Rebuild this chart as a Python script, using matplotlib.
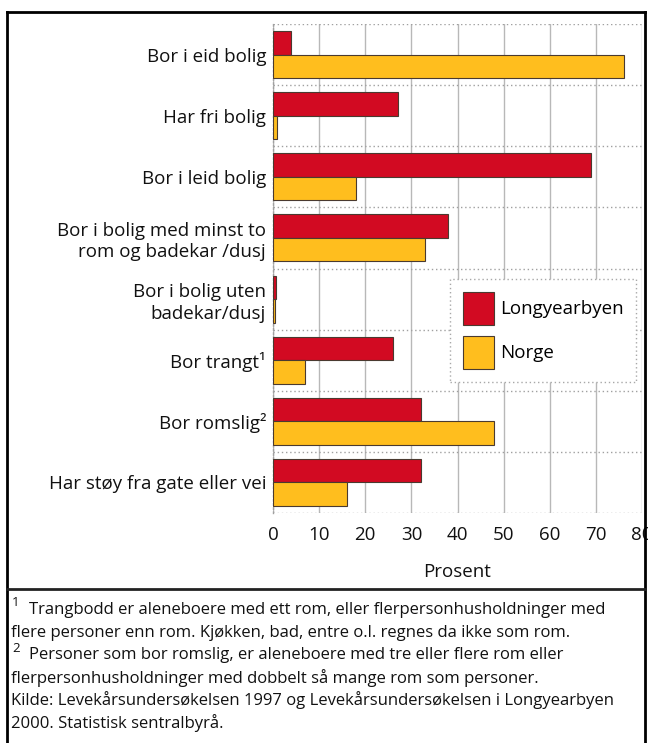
import matplotlib
matplotlib.use("Agg")
import matplotlib.pyplot as plt
from matplotlib.lines import Line2D
import numpy as np

plt.rcParams['font.family'] = ['Open Sans', 'DejaVu Sans']

categories = [
    "Bor i eid bolig",
    "Har fri bolig",
    "Bor i leid bolig",
    "Bor i bolig med minst to\nrom og badekar /dusj",
    "Bor i bolig uten\nbadekar/dusj",
    "Bor trangt\u00b9",
    "Bor romslig\u00b2",
    "Har støy fra gate eller vei",
]
longyearbyen = [4, 27, 69, 38, 0.6, 26, 32, 32]
norge = [76, 0.8, 18, 33, 0.5, 7, 48, 16]
series_labels = ["Longyearbyen", "Norge"]
xticks = [0, 10, 20, 30, 40, 50, 60, 70, 80]
xlabel = "Prosent"
footnotes = [
    ("1", "Trangbodd er aleneboere med ett rom, eller flerpersonhusholdninger med"),
    ("", "flere personer enn rom. Kjøkken, bad, entre o.l. regnes da ikke som rom."),
    ("2", "Personer som bor romslig, er aleneboere med tre eller flere rom eller"),
    ("", "flerpersonhusholdninger med dobbelt så mange rom som personer."),
    ("", "Kilde: Levekårsundersøkelsen 1997 og Levekårsundersøkelsen i Longyearbyen"),
    ("", "2000. Statistisk sentralbyrå."),
]

RED = "#d20a22"
YEL = "#ffbe1e"
EDGE = "#4a3a30"

W, H = 648, 743
fig = plt.figure(figsize=(W / 100, H / 100), dpi=100)

def fx(px):
    return px / W

def fy(py):
    return 1 - py / H

# axes area in pixels
L, R, T, B = 273, 642, 24, 513
ax = fig.add_axes([fx(L), fy(B), fx(R) - fx(L), fy(T) - fy(B)])

n = len(categories)
y = np.arange(n)
h = 0.385
ax.barh(y - h / 2, longyearbyen, height=h, color=RED, edgecolor=EDGE,
        linewidth=0.8, label=series_labels[0], zorder=3)
ax.barh(y + h / 2, norge, height=h, color=YEL, edgecolor=EDGE,
        linewidth=0.8, label=series_labels[1], zorder=3)

ax.set_xlim(0, 80)
ax.set_ylim(n - 0.5, -0.5)
ax.set_xticks(xticks)
ax.set_xticklabels([str(t) for t in xticks], fontsize=13.5)
ax.set_yticks(y)
ax.set_yticklabels(categories, fontsize=13.5, linespacing=1.25)
ax.tick_params(axis='both', length=0, colors='#111111')
ax.tick_params(axis='x', pad=9)
ax.tick_params(axis='y', pad=5)

# gridlines
ax.set_yticks(np.arange(-0.5, n, 1.0), minor=True)
ax.tick_params(axis='y', which='minor', length=0)
ax.grid(axis='y', which='minor', color='#a0a0a0', linestyle=(0, (1, 2)),
        linewidth=1.0, zorder=1)
ax.grid(axis='x', which='major', color='#b8b8b8', linestyle='-',
        linewidth=1.0, zorder=1)
for s in ['top', 'bottom', 'right']:
    ax.spines[s].set_visible(False)
ax.spines['left'].set_color('#a0a0a0')
ax.spines['left'].set_linestyle((0, (1, 2)))
ax.spines['left'].set_linewidth(1.0)

ax.set_xlabel(xlabel, fontsize=13.5, labelpad=14, color='#111111')

leg = ax.legend(loc='upper left', bbox_to_anchor=(fx(450), fy(279)),
                bbox_transform=fig.transFigure, borderaxespad=0,
                fontsize=13.5, handlelength=1.65, handleheight=2.3,
                handletextpad=0.3, labelspacing=0.6, borderpad=0.7,
                fancybox=False, framealpha=1)
leg.get_frame().set_edgecolor('#a8a8a8')
leg.get_frame().set_linestyle((0, (1, 2)))
leg.get_frame().set_linewidth(1.0)

# outer frame and separator
frame_kw = dict(color='black', linewidth=2.0, transform=fig.transFigure)
fig.add_artist(Line2D([fx(7), fx(7)], [fy(12), fy(H + 5)], **frame_kw))
fig.add_artist(Line2D([fx(7), fx(645)], [fy(12), fy(12)], **frame_kw))
fig.add_artist(Line2D([fx(645), fx(645)], [fy(12), fy(H + 5)], **frame_kw))
fig.add_artist(Line2D([fx(7), fx(645)], [fy(589), fy(589)], color='#222222',
                      linewidth=2.0, transform=fig.transFigure))

# footnotes
y0, dy = 610, 22.6
for i, (sup, line) in enumerate(footnotes):
    yy = y0 + i * dy
    if sup:
        fig.text(fx(12), fy(yy - 7), sup, fontsize=9.5, va='center', ha='left',
                 color='#111111')
        fig.text(fx(29), fy(yy), line, fontsize=12, va='center', ha='left',
                 color='#111111')
    else:
        fig.text(fx(11), fy(yy), line, fontsize=12, va='center', ha='left',
                 color='#111111')

fig.savefig("out.png", dpi=100)
